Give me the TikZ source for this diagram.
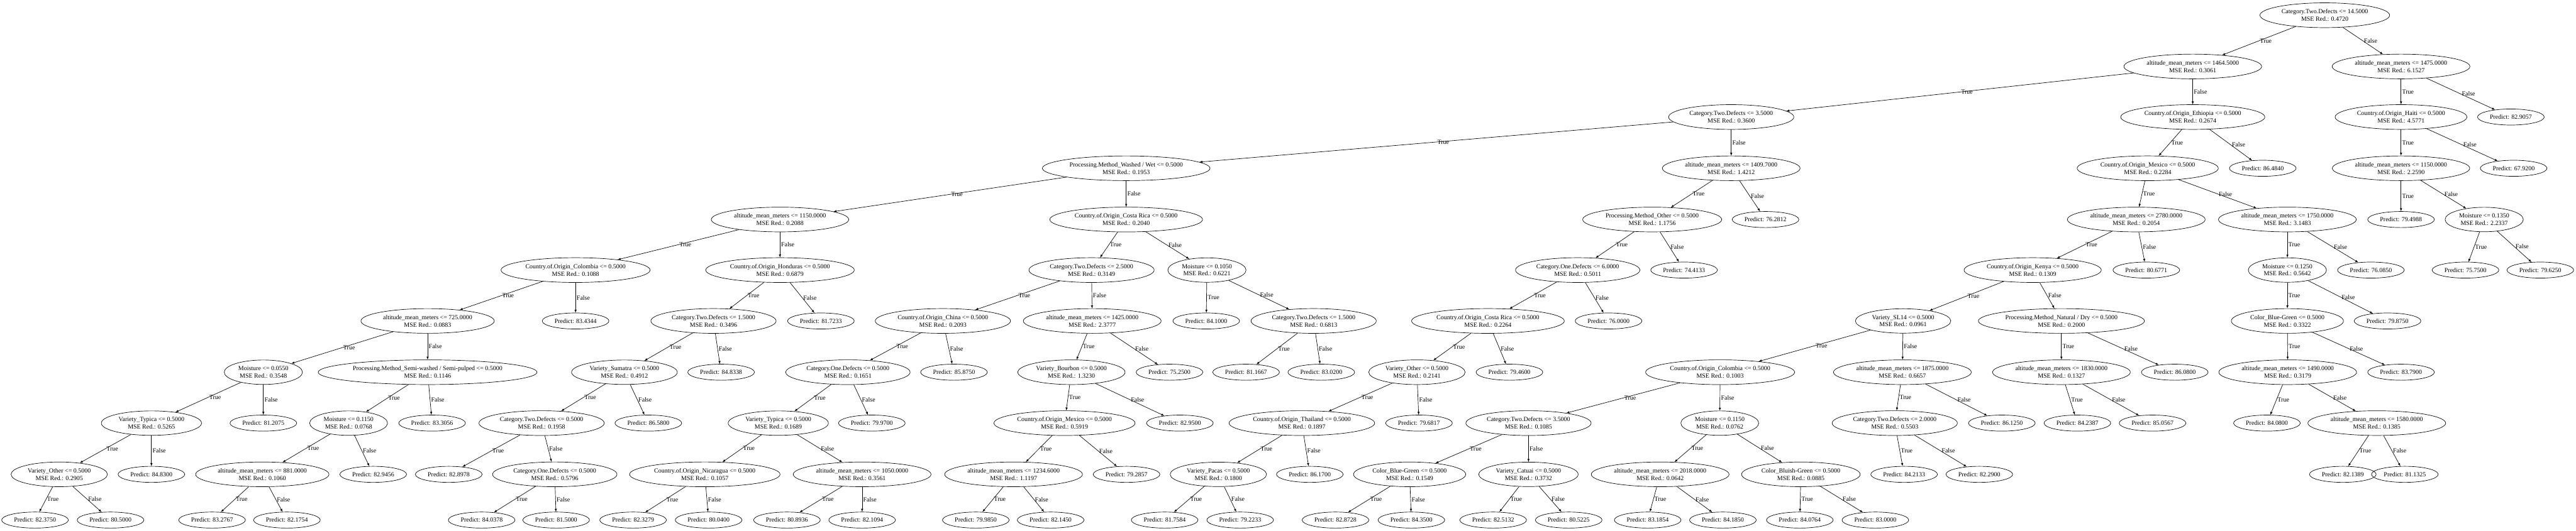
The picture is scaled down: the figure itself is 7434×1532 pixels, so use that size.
\documentclass[tikz,border=0pt]{standalone}
\usepackage{fontspec}
\setmainfont{Liberation Serif}
\usetikzlibrary{shapes.geometric}

\begin{document}
\begin{tikzpicture}[x=0.02cm, y=-0.02cm, font=\fontsize{10.3}{12.3}\selectfont,
		split/.style={draw, ellipse, align=center, line width=0.7pt, inner xsep=0.15cm, inner ysep=0.16cm},
		leaf/.style={draw, ellipse, line width=0.7pt, inner xsep=0.15cm, inner ysep=0.2cm},
		lbl/.style={midway, anchor=west, inner sep=1.5pt},
		link/.style={-latex, line width=0.7pt}]
		\fill[white] (0,0) rectangle (7434,1532);
		\node[split] (n0) at (6709,44) {Category.Two.Defects <= 14.5000\\MSE Red.: 0.4720};
		\node[split] (n1) at (6328,192) {altitude\_mean\_meters <= 1464.5000\\MSE Red.: 0.3061};
		\node[split] (n2) at (6929,192) {altitude\_mean\_meters <= 1475.0000\\MSE Red.: 6.1527};
		\node[split] (n3) at (4996,338) {Category.Two.Defects <= 3.5000\\MSE Red.: 0.3600};
		\node[split] (n4) at (6328,338) {Country.of.Origin\_Ethiopia <= 0.5000\\MSE Red.: 0.2674};
		\node[split] (n5) at (6929,338) {Country.of.Origin\_Haiti <= 0.5000\\MSE Red.: 4.5771};
		\node[leaf] (n6) at (7246,338) {Predict: 82.9057};
		\node[split] (n7) at (3250,486) {Processing.Method\_Washed / Wet <= 0.5000\\MSE Red.: 0.1953};
		\node[split] (n8) at (4996,486) {altitude\_mean\_meters <= 1409.7000\\MSE Red.: 1.4212};
		\node[split] (n9) at (6198,486) {Country.of.Origin\_Mexico <= 0.5000\\MSE Red.: 0.2284};
		\node[leaf] (n10) at (6530,486) {Predict: 86.4840};
		\node[split] (n11) at (6929,486) {altitude\_mean\_meters <= 1150.0000\\MSE Red.: 2.2590};
		\node[leaf] (n12) at (7254,486) {Predict: 67.9200};
		\node[split] (n13) at (2251,634) {altitude\_mean\_meters <= 1150.0000\\MSE Red.: 0.2088};
		\node[split] (n14) at (3250,634) {Country.of.Origin\_Costa Rica <= 0.5000\\MSE Red.: 0.2040};
		\node[split] (n15) at (4768,634) {Processing.Method\_Other <= 0.5000\\MSE Red.: 1.1756};
		\node[leaf] (n16) at (5095,634) {Predict: 76.2812};
		\node[split] (n17) at (6165,634) {altitude\_mean\_meters <= 2780.0000\\MSE Red.: 0.2054};
		\node[split] (n18) at (6601,634) {altitude\_mean\_meters <= 1750.0000\\MSE Red.: 3.1483};
		\node[leaf] (n19) at (6929,634) {Predict: 79.4988};
		\node[split] (n20) at (7169,634) {Moisture <= 0.1350\\MSE Red.: 2.2337};
		\node[split] (n21) at (1661,780) {Country.of.Origin\_Colombia <= 0.5000\\MSE Red.: 0.1088};
		\node[split] (n22) at (2251,780) {Country.of.Origin\_Honduras <= 0.5000\\MSE Red.: 0.6879};
		\node[split] (n23) at (3150,780) {Category.Two.Defects <= 2.5000\\MSE Red.: 0.3149};
		\node[split] (n24) at (3483,780) {Moisture <= 0.1050\\MSE Red.: 0.6221};
		\node[split] (n25) at (4553,780) {Category.One.Defects <= 6.0000\\MSE Red.: 0.5011};
		\node[leaf] (n26) at (4860,780) {Predict: 74.4133};
		\node[split] (n27) at (5866,780) {Country.of.Origin\_Kenya <= 0.5000\\MSE Red.: 0.1309};
		\node[leaf] (n28) at (6194,780) {Predict: 80.6771};
		\node[split] (n29) at (6601,780) {Moisture <= 0.1250\\MSE Red.: 0.5642};
		\node[leaf] (n30) at (6842,780) {Predict: 76.0850};
		\node[leaf] (n31) at (7115,780) {Predict: 75.7500};
		\node[leaf] (n32) at (7331,780) {Predict: 79.6250};
		\node[split] (n33) at (1234,927) {altitude\_mean\_meters <= 725.0000\\MSE Red.: 0.0883};
		\node[leaf] (n34) at (1661,927) {Predict: 83.4344};
		\node[split] (n35) at (2059,927) {Category.Two.Defects <= 1.5000\\MSE Red.: 0.3496};
		\node[leaf] (n36) at (2369,927) {Predict: 81.7233};
		\node[split] (n37) at (2721,927) {Country.of.Origin\_China <= 0.5000\\MSE Red.: 0.2093};
		\node[split] (n38) at (3152,927) {altitude\_mean\_meters <= 1425.0000\\MSE Red.: 2.3777};
		\node[leaf] (n39) at (3481,927) {Predict: 84.1000};
		\node[split] (n40) at (3791,927) {Category.Two.Defects <= 1.5000\\MSE Red.: 0.6813};
		\node[split] (n41) at (4294,927) {Country.of.Origin\_Costa Rica <= 0.5000\\MSE Red.: 0.2264};
		\node[leaf] (n42) at (4642,927) {Predict: 76.0000};
		\node[split] (n43) at (5492,927) {Variety\_SL14 <= 0.5000\\MSE Red.: 0.0961};
		\node[split] (n44) at (5949,927) {Processing.Method\_Natural / Dry <= 0.5000\\MSE Red.: 0.2000};
		\node[split] (n45) at (6601,927) {Color\_Blue-Green <= 0.5000\\MSE Red.: 0.3322};
		\node[leaf] (n46) at (6890,927) {Predict: 79.8750};
		\node[split] (n47) at (760,1075) {Moisture <= 0.0550\\MSE Red.: 0.3548};
		\node[split] (n48) at (1234,1075) {Processing.Method\_Semi-washed / Semi-pulped <= 0.5000\\MSE Red.: 0.1146};
		\node[split] (n49) at (1802,1075) {Variety\_Sumatra <= 0.5000\\MSE Red.: 0.4912};
		\node[leaf] (n50) at (2081,1075) {Predict: 84.8338};
		\node[split] (n51) at (2447,1075) {Category.One.Defects <= 0.5000\\MSE Red.: 0.1651};
		\node[leaf] (n52) at (2753,1075) {Predict: 85.8750};
		\node[split] (n53) at (3092,1075) {Variety\_Bourbon <= 0.5000\\MSE Red.: 1.3230};
		\node[leaf] (n54) at (3375,1075) {Predict: 75.2500};
		\node[leaf] (n55) at (3596,1075) {Predict: 81.1667};
		\node[leaf] (n56) at (3813,1075) {Predict: 83.0200};
		\node[split] (n57) at (4089,1075) {Variety\_Other <= 0.5000\\MSE Red.: 0.2141};
		\node[leaf] (n58) at (4356,1075) {Predict: 79.4600};
		\node[split] (n59) at (4964,1075) {Country.of.Origin\_Colombia <= 0.5000\\MSE Red.: 0.1003};
		\node[split] (n60) at (5490,1075) {altitude\_mean\_meters <= 1875.0000\\MSE Red.: 0.6657};
		\node[split] (n61) at (5949,1075) {altitude\_mean\_meters <= 1830.0000\\MSE Red.: 0.1327};
		\node[leaf] (n62) at (6276,1075) {Predict: 86.0800};
		\node[split] (n63) at (6602,1075) {altitude\_mean\_meters <= 1490.0000\\MSE Red.: 0.3179};
		\node[leaf] (n64) at (6929,1075) {Predict: 83.7900};
		\node[split] (n65) at (437,1222) {Variety\_Typica <= 0.5000\\MSE Red.: 0.5265};
		\node[leaf] (n66) at (760,1222) {Predict: 81.2075};
		\node[split] (n67) at (1006,1222) {Moisture <= 0.1150\\MSE Red.: 0.0768};
		\node[leaf] (n68) at (1247,1222) {Predict: 83.3056};
		\node[split] (n69) at (1563,1222) {Category.Two.Defects <= 0.5000\\MSE Red.: 0.1958};
		\node[leaf] (n70) at (1871,1222) {Predict: 86.5800};
		\node[split] (n71) at (2246,1222) {Variety\_Typica <= 0.5000\\MSE Red.: 0.1689};
		\node[leaf] (n72) at (2516,1222) {Predict: 79.9700};
		\node[split] (n73) at (3072,1222) {Country.of.Origin\_Mexico <= 0.5000\\MSE Red.: 0.5919};
		\node[leaf] (n74) at (3405,1222) {Predict: 82.9500};
		\node[split] (n75) at (3757,1222) {Country.of.Origin\_Thailand <= 0.5000\\MSE Red.: 0.1897};
		\node[leaf] (n76) at (4095,1222) {Predict: 79.6817};
		\node[split] (n77) at (4411,1222) {Category.Two.Defects <= 3.5000\\MSE Red.: 0.1085};
		\node[split] (n78) at (4963,1222) {Moisture <= 0.1150\\MSE Red.: 0.0762};
		\node[split] (n79) at (5468,1222) {Category.Two.Defects <= 2.0000\\MSE Red.: 0.5503};
		\node[leaf] (n80) at (5777,1222) {Predict: 86.1250};
		\node[leaf] (n81) at (5995,1222) {Predict: 84.2387};
		\node[leaf] (n82) at (6212,1222) {Predict: 85.0567};
		\node[leaf] (n83) at (6542,1222) {Predict: 84.0800};
		\node[split] (n84) at (6859,1222) {altitude\_mean\_meters <= 1580.0000\\MSE Red.: 0.1385};
		\node[split] (n85) at (171,1370) {Variety\_Other <= 0.5000\\MSE Red.: 0.2905};
		\node[leaf] (n86) at (437,1370) {Predict: 84.8300};
		\node[split] (n87) at (757,1370) {altitude\_mean\_meters <= 881.0000\\MSE Red.: 0.1060};
		\node[leaf] (n88) at (1077,1370) {Predict: 82.9456};
		\node[leaf] (n89) at (1295,1370) {Predict: 82.8978};
		\node[split] (n90) at (1601,1370) {Category.One.Defects <= 0.5000\\MSE Red.: 0.5796};
		\node[split] (n91) at (2034,1370) {Country.of.Origin\_Nicaragua <= 0.5000\\MSE Red.: 0.1057};
		\node[split] (n92) at (2488,1370) {altitude\_mean\_meters <= 1050.0000\\MSE Red.: 0.3561};
		\node[split] (n93) at (2925,1370) {altitude\_mean\_meters <= 1234.6000\\MSE Red.: 1.1197};
		\node[leaf] (n94) at (3251,1370) {Predict: 79.2857};
		\node[split] (n95) at (3516,1370) {Variety\_Pacas <= 0.5000\\MSE Red.: 0.1800};
		\node[leaf] (n96) at (3780,1370) {Predict: 86.1700};
		\node[split] (n97) at (4068,1370) {Color\_Blue-Green <= 0.5000\\MSE Red.: 0.1549};
		\node[split] (n98) at (4411,1370) {Variety\_Catuai <= 0.5000\\MSE Red.: 0.3732};
		\node[split] (n99) at (4791,1370) {altitude\_mean\_meters <= 2018.0000\\MSE Red.: 0.0642};
		\node[split] (n100) at (5197,1370) {Color\_Bluish-Green <= 0.5000\\MSE Red.: 0.0885};
		\node[leaf] (n101) at (5495,1370) {Predict: 84.2133};
		\node[leaf] (n102) at (5712,1370) {Predict: 82.2900};
		\node[leaf] (n103) at (6761,1370) {Predict: 82.1389};
		\node[leaf] (n104) at (6940,1370) {Predict: 81.1325};
		\node[leaf] (n105) at (101,1502) {Predict: 82.3750};
		\node[leaf] (n106) at (319,1502) {Predict: 80.5000};
		\node[leaf] (n107) at (612,1502) {Predict: 83.2767};
		\node[leaf] (n108) at (828,1502) {Predict: 82.1754};
		\node[leaf] (n109) at (1390,1502) {Predict: 84.0378};
		\node[leaf] (n110) at (1605,1502) {Predict: 81.5000};
		\node[leaf] (n111) at (1827,1502) {Predict: 82.3279};
		\node[leaf] (n112) at (2045,1502) {Predict: 80.0400};
		\node[leaf] (n113) at (2271,1502) {Predict: 80.8936};
		\node[leaf] (n114) at (2488,1502) {Predict: 82.1094};
		\node[leaf] (n115) at (2816,1502) {Predict: 79.9850};
		\node[leaf] (n116) at (3032,1502) {Predict: 82.1450};
		\node[leaf] (n117) at (3361,1502) {Predict: 81.7584};
		\node[leaf] (n118) at (3579,1502) {Predict: 79.2233};
		\node[leaf] (n119) at (3854,1502) {Predict: 82.8728};
		\node[leaf] (n120) at (4073,1502) {Predict: 84.3500};
		\node[leaf] (n121) at (4309,1502) {Predict: 82.5132};
		\node[leaf] (n122) at (4527,1502) {Predict: 80.5225};
		\node[leaf] (n123) at (4755,1502) {Predict: 83.1854};
		\node[leaf] (n124) at (4972,1502) {Predict: 84.1850};
		\node[leaf] (n125) at (5194,1502) {Predict: 84.0764};
		\node[leaf] (n126) at (5412,1502) {Predict: 83.0000};
		\draw[link] (n0) -- node[lbl] {True} (n1);
		\draw[link] (n0) -- node[lbl] {False} (n2);
		\draw[link] (n1) -- node[lbl] {True} (n3);
		\draw[link] (n1) -- node[lbl] {False} (n4);
		\draw[link] (n2) -- node[lbl] {True} (n5);
		\draw[link] (n2) -- node[lbl] {False} (n6);
		\draw[link] (n3) -- node[lbl] {True} (n7);
		\draw[link] (n3) -- node[lbl] {False} (n8);
		\draw[link] (n4) -- node[lbl] {True} (n9);
		\draw[link] (n4) -- node[lbl] {False} (n10);
		\draw[link] (n5) -- node[lbl] {True} (n11);
		\draw[link] (n5) -- node[lbl] {False} (n12);
		\draw[link] (n7) -- node[lbl] {True} (n13);
		\draw[link] (n7) -- node[lbl] {False} (n14);
		\draw[link] (n8) -- node[lbl] {True} (n15);
		\draw[link] (n8) -- node[lbl] {False} (n16);
		\draw[link] (n9) -- node[lbl] {True} (n17);
		\draw[link] (n9) -- node[lbl] {False} (n18);
		\draw[link] (n11) -- node[lbl] {True} (n19);
		\draw[link] (n11) -- node[lbl] {False} (n20);
		\draw[link] (n13) -- node[lbl] {True} (n21);
		\draw[link] (n13) -- node[lbl] {False} (n22);
		\draw[link] (n14) -- node[lbl] {True} (n23);
		\draw[link] (n14) -- node[lbl] {False} (n24);
		\draw[link] (n15) -- node[lbl] {True} (n25);
		\draw[link] (n15) -- node[lbl] {False} (n26);
		\draw[link] (n17) -- node[lbl] {True} (n27);
		\draw[link] (n17) -- node[lbl] {False} (n28);
		\draw[link] (n18) -- node[lbl] {True} (n29);
		\draw[link] (n18) -- node[lbl] {False} (n30);
		\draw[link] (n20) -- node[lbl] {True} (n31);
		\draw[link] (n20) -- node[lbl] {False} (n32);
		\draw[link] (n21) -- node[lbl] {True} (n33);
		\draw[link] (n21) -- node[lbl] {False} (n34);
		\draw[link] (n22) -- node[lbl] {True} (n35);
		\draw[link] (n22) -- node[lbl] {False} (n36);
		\draw[link] (n23) -- node[lbl] {True} (n37);
		\draw[link] (n23) -- node[lbl] {False} (n38);
		\draw[link] (n24) -- node[lbl] {True} (n39);
		\draw[link] (n24) -- node[lbl] {False} (n40);
		\draw[link] (n25) -- node[lbl] {True} (n41);
		\draw[link] (n25) -- node[lbl] {False} (n42);
		\draw[link] (n27) -- node[lbl] {True} (n43);
		\draw[link] (n27) -- node[lbl] {False} (n44);
		\draw[link] (n29) -- node[lbl] {True} (n45);
		\draw[link] (n29) -- node[lbl] {False} (n46);
		\draw[link] (n33) -- node[lbl] {True} (n47);
		\draw[link] (n33) -- node[lbl] {False} (n48);
		\draw[link] (n35) -- node[lbl] {True} (n49);
		\draw[link] (n35) -- node[lbl] {False} (n50);
		\draw[link] (n37) -- node[lbl] {True} (n51);
		\draw[link] (n37) -- node[lbl] {False} (n52);
		\draw[link] (n38) -- node[lbl] {True} (n53);
		\draw[link] (n38) -- node[lbl] {False} (n54);
		\draw[link] (n40) -- node[lbl] {True} (n55);
		\draw[link] (n40) -- node[lbl] {False} (n56);
		\draw[link] (n41) -- node[lbl] {True} (n57);
		\draw[link] (n41) -- node[lbl] {False} (n58);
		\draw[link] (n43) -- node[lbl] {True} (n59);
		\draw[link] (n43) -- node[lbl] {False} (n60);
		\draw[link] (n44) -- node[lbl] {True} (n61);
		\draw[link] (n44) -- node[lbl] {False} (n62);
		\draw[link] (n45) -- node[lbl] {True} (n63);
		\draw[link] (n45) -- node[lbl] {False} (n64);
		\draw[link] (n47) -- node[lbl] {True} (n65);
		\draw[link] (n47) -- node[lbl] {False} (n66);
		\draw[link] (n48) -- node[lbl] {True} (n67);
		\draw[link] (n48) -- node[lbl] {False} (n68);
		\draw[link] (n49) -- node[lbl] {True} (n69);
		\draw[link] (n49) -- node[lbl] {False} (n70);
		\draw[link] (n51) -- node[lbl] {True} (n71);
		\draw[link] (n51) -- node[lbl] {False} (n72);
		\draw[link] (n53) -- node[lbl] {True} (n73);
		\draw[link] (n53) -- node[lbl] {False} (n74);
		\draw[link] (n57) -- node[lbl] {True} (n75);
		\draw[link] (n57) -- node[lbl] {False} (n76);
		\draw[link] (n59) -- node[lbl] {True} (n77);
		\draw[link] (n59) -- node[lbl] {False} (n78);
		\draw[link] (n60) -- node[lbl] {True} (n79);
		\draw[link] (n60) -- node[lbl] {False} (n80);
		\draw[link] (n61) -- node[lbl] {True} (n81);
		\draw[link] (n61) -- node[lbl] {False} (n82);
		\draw[link] (n63) -- node[lbl] {True} (n83);
		\draw[link] (n63) -- node[lbl] {False} (n84);
		\draw[link] (n65) -- node[lbl] {True} (n85);
		\draw[link] (n65) -- node[lbl] {False} (n86);
		\draw[link] (n67) -- node[lbl] {True} (n87);
		\draw[link] (n67) -- node[lbl] {False} (n88);
		\draw[link] (n69) -- node[lbl] {True} (n89);
		\draw[link] (n69) -- node[lbl] {False} (n90);
		\draw[link] (n71) -- node[lbl] {True} (n91);
		\draw[link] (n71) -- node[lbl] {False} (n92);
		\draw[link] (n73) -- node[lbl] {True} (n93);
		\draw[link] (n73) -- node[lbl] {False} (n94);
		\draw[link] (n75) -- node[lbl] {True} (n95);
		\draw[link] (n75) -- node[lbl] {False} (n96);
		\draw[link] (n77) -- node[lbl] {True} (n97);
		\draw[link] (n77) -- node[lbl] {False} (n98);
		\draw[link] (n78) -- node[lbl] {True} (n99);
		\draw[link] (n78) -- node[lbl] {False} (n100);
		\draw[link] (n79) -- node[lbl] {True} (n101);
		\draw[link] (n79) -- node[lbl] {False} (n102);
		\draw[link] (n84) -- node[lbl] {True} (n103);
		\draw[link] (n84) -- node[lbl] {False} (n104);
		\draw[link] (n85) -- node[lbl] {True} (n105);
		\draw[link] (n85) -- node[lbl] {False} (n106);
		\draw[link] (n87) -- node[lbl] {True} (n107);
		\draw[link] (n87) -- node[lbl] {False} (n108);
		\draw[link] (n90) -- node[lbl] {True} (n109);
		\draw[link] (n90) -- node[lbl] {False} (n110);
		\draw[link] (n91) -- node[lbl] {True} (n111);
		\draw[link] (n91) -- node[lbl] {False} (n112);
		\draw[link] (n92) -- node[lbl] {True} (n113);
		\draw[link] (n92) -- node[lbl] {False} (n114);
		\draw[link] (n93) -- node[lbl] {True} (n115);
		\draw[link] (n93) -- node[lbl] {False} (n116);
		\draw[link] (n95) -- node[lbl] {True} (n117);
		\draw[link] (n95) -- node[lbl] {False} (n118);
		\draw[link] (n97) -- node[lbl] {True} (n119);
		\draw[link] (n97) -- node[lbl] {False} (n120);
		\draw[link] (n98) -- node[lbl] {True} (n121);
		\draw[link] (n98) -- node[lbl] {False} (n122);
		\draw[link] (n99) -- node[lbl] {True} (n123);
		\draw[link] (n99) -- node[lbl] {False} (n124);
		\draw[link] (n100) -- node[lbl] {True} (n125);
		\draw[link] (n100) -- node[lbl] {False} (n126);
\end{tikzpicture}
\end{document}
